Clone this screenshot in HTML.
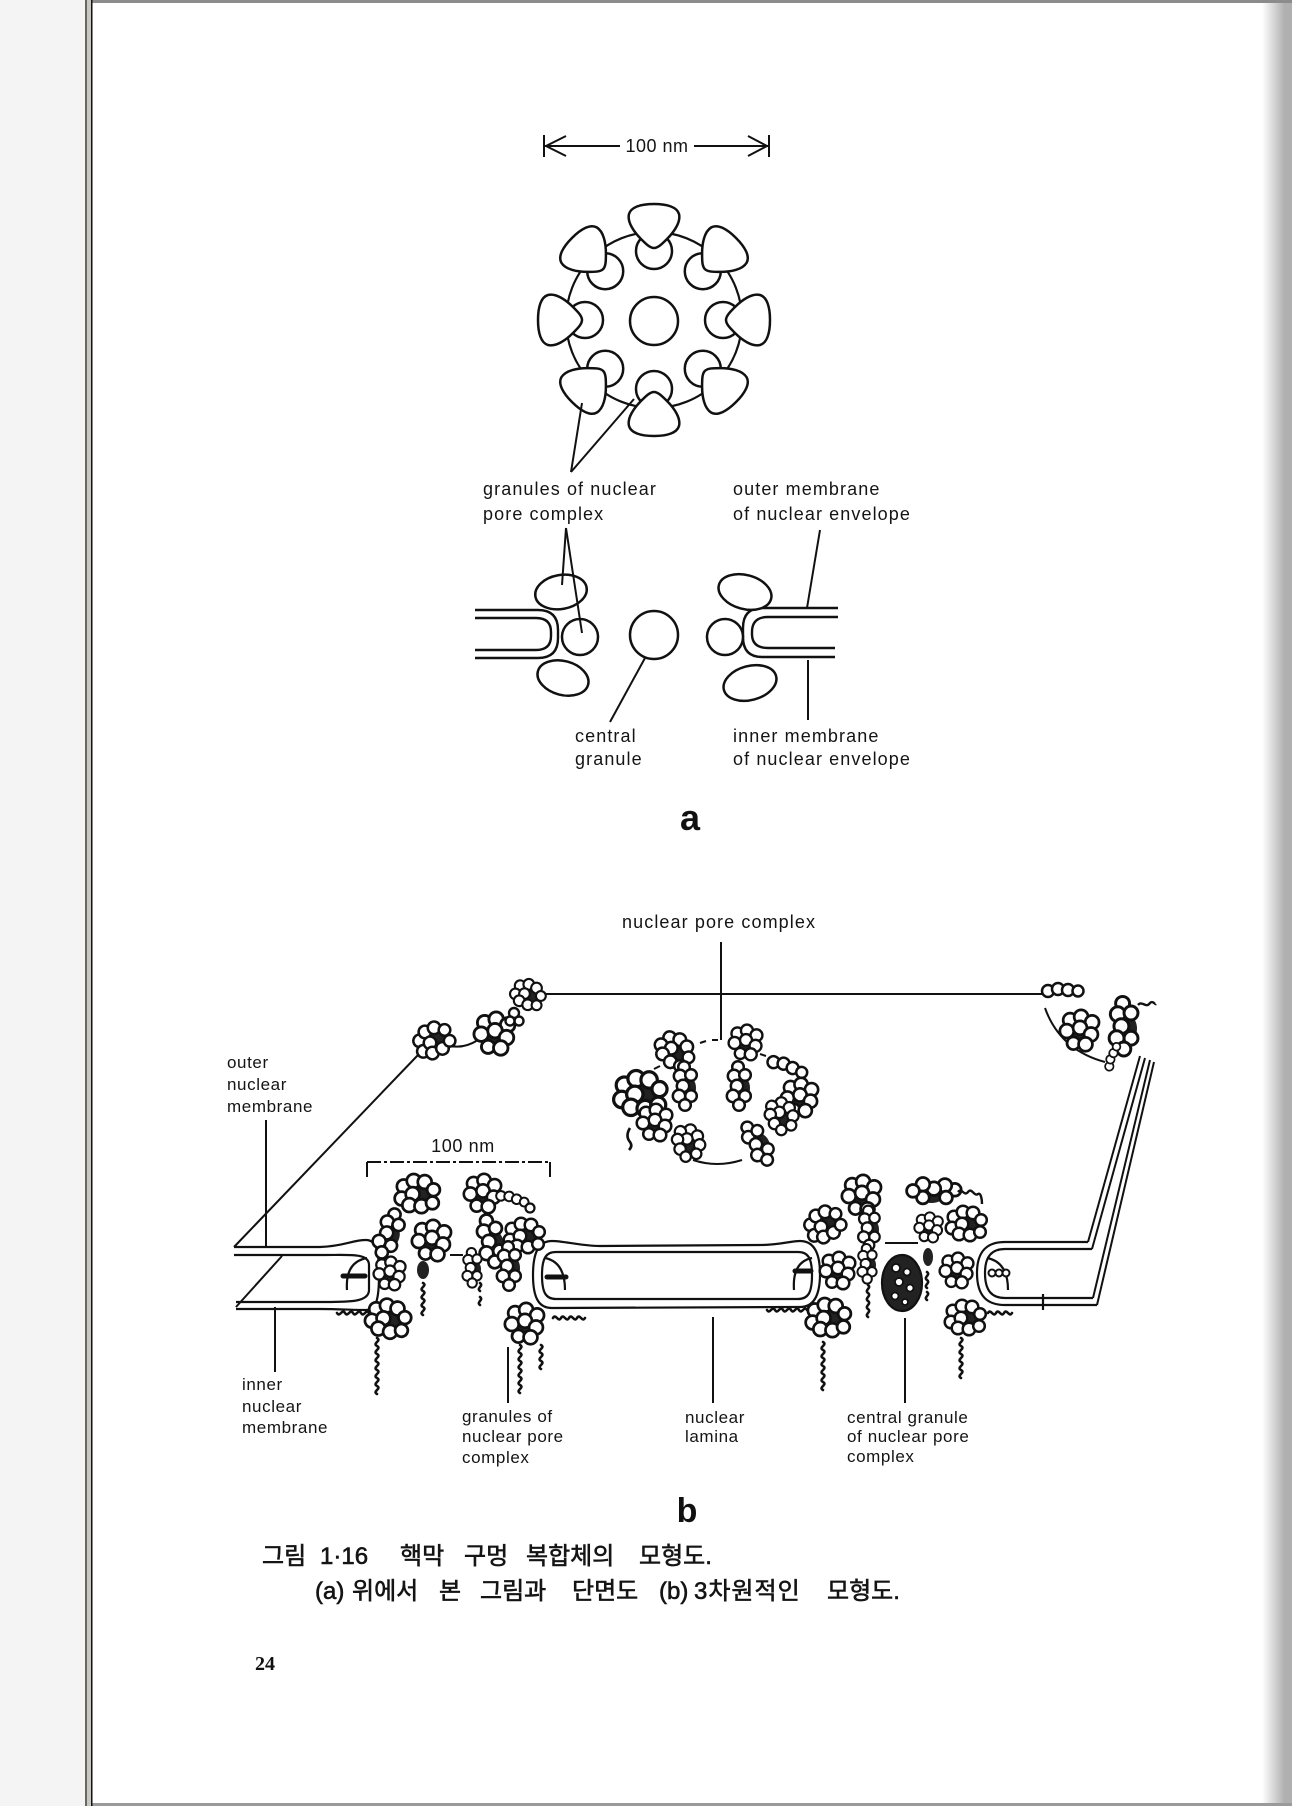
<!DOCTYPE html>
<html>
<head>
<meta charset="utf-8">
<style>
html,body{margin:0;padding:0;background:#f4f4f4;}
svg{display:block}
.la{font-family:"Liberation Sans",sans-serif;font-size:18px;letter-spacing:1.1px;fill:#141414}
.lb{font-family:"Liberation Sans",sans-serif;font-size:17px;letter-spacing:0.6px;fill:#141414}
.kr{font-family:"Liberation Sans","Noto Sans CJK KR",sans-serif;font-size:24px;fill:#141414;stroke:#141414;stroke-width:0.6px}
</style>
</head>
<body>
<svg width="1292" height="1806" viewBox="0 0 1292 1806" xmlns="http://www.w3.org/2000/svg">
<defs>
  <linearGradient id="rg" x1="0" x2="1" y1="0" y2="0">
    <stop offset="0" stop-color="#ffffff"/>
    <stop offset="1" stop-color="#b2b2b2"/>
  </linearGradient>
  <path id="tri" d="M0,-22 C13,-22 23,-19 25,-12 C27,-4 20,6 13,13 C8,18 4,22 0,22 C-4,22 -8,18 -13,13 C-20,6 -27,-4 -25,-12 C-23,-19 -13,-22 0,-22 Z"/>
  <g id="gr" fill="#fff" stroke="#111" stroke-width="2.5">
    <circle cx="0" cy="-69" r="18"/>
    <use href="#tri" transform="translate(0,-94)"/>
  </g>
  <g id="c1" fill="#fff" stroke="#111" stroke-width="2.5">
    <ellipse cx="5" cy="1" rx="10" ry="7" fill="#222" stroke="none"/>
    <circle cx="-12" cy="-6" r="6.3"/>
    <circle cx="-3" cy="-11" r="6.3"/>
    <circle cx="7" cy="-10" r="6.3"/>
    <circle cx="15" cy="-3" r="5.8"/>
    <circle cx="-14" cy="5" r="6.3"/>
    <circle cx="-4" cy="1" r="6.3"/>
    <circle cx="-7" cy="11" r="6.3"/>
    <circle cx="4" cy="12" r="6.3"/>
    <circle cx="14" cy="9" r="5.8"/>
  </g>
  <g id="c2" fill="#fff" stroke="#111" stroke-width="2.5">
    <ellipse cx="-3" cy="5" rx="8" ry="7" fill="#222" stroke="none"/>
    <circle cx="-9" cy="-9" r="6.3"/>
    <circle cx="1" cy="-12" r="6.3"/>
    <circle cx="11" cy="-7" r="6.3"/>
    <circle cx="-12" cy="1" r="6.3"/>
    <circle cx="0" cy="-2" r="6.3"/>
    <circle cx="10" cy="4" r="6.3"/>
    <circle cx="-6" cy="12" r="5.8"/>
    <circle cx="5" cy="13" r="6.3"/>
  </g>
  <g id="c3" fill="#fff" stroke="#111" stroke-width="2.5">
    <ellipse cx="4" cy="3" rx="6" ry="10" fill="#222" stroke="none"/>
    <circle cx="-2" cy="-18" r="5.8"/>
    <circle cx="-6" cy="-9" r="6.2"/>
    <circle cx="5" cy="-10" r="5.8"/>
    <circle cx="-3" cy="1" r="6.2"/>
    <circle cx="-7" cy="11" r="6.2"/>
    <circle cx="5" cy="11" r="5.8"/>
    <circle cx="-1" cy="20" r="5.8"/>
  </g>
  <g id="c4" fill="#fff" stroke="#111" stroke-width="2.5">
    <circle cx="-14" cy="1" r="6"/>
    <circle cx="-4" cy="-1" r="6"/>
    <circle cx="6" cy="0" r="6"/>
    <circle cx="16" cy="1" r="5.5"/>
  </g>
</defs>

<!-- page frame -->
<rect width="1292" height="1806" fill="#f4f4f4"/>
<rect x="87" y="3" width="1181" height="1800" fill="#fff"/>
<rect x="1262" y="0" width="22" height="1806" fill="url(#rg)"/>
<rect x="1284" y="0" width="8" height="1806" fill="#b0b0b0"/>
<rect x="86" y="0" width="1206" height="3" fill="#8c8c8c"/>
<rect x="86" y="1803" width="1206" height="3" fill="#9a9a9a"/>
<rect x="85" y="0" width="2" height="1806" fill="#666"/>
<rect x="87" y="0" width="4" height="1806" fill="#c8c8c0"/>
<rect x="91" y="0" width="1.5" height="1806" fill="#111"/>

<!-- ===== Diagram a : top view ===== -->
<g stroke="#111" stroke-width="2" fill="none">
  <line x1="544" y1="135" x2="544" y2="157"/>
  <line x1="769" y1="135" x2="769" y2="157"/>
  <line x1="545" y1="146" x2="620" y2="146"/>
  <line x1="694" y1="146" x2="768" y2="146"/>
  <polyline points="566,136 546,146 566,156"/>
  <polyline points="748,136 767,146 748,156"/>
</g>
<text x="657" y="152" text-anchor="middle" class="la" style="font-size:18px;letter-spacing:0.5px">100 nm</text>

<circle cx="654" cy="320" r="88" fill="none" stroke="#111" stroke-width="2.2"/>
<circle cx="654" cy="321" r="24" fill="#fff" stroke="#111" stroke-width="2.5"/>
<g transform="translate(654,320)">
  <use href="#gr" transform="rotate(0)"/>
  <use href="#gr" transform="rotate(45)"/>
  <use href="#gr" transform="rotate(90)"/>
  <use href="#gr" transform="rotate(135)"/>
  <use href="#gr" transform="rotate(180)"/>
  <use href="#gr" transform="rotate(225)"/>
  <use href="#gr" transform="rotate(270)"/>
  <use href="#gr" transform="rotate(315)"/>
</g>

<!-- leaders a -->
<g stroke="#111" stroke-width="2" fill="none">
  <line x1="582" y1="403" x2="571" y2="472"/>
  <line x1="634" y1="399" x2="571" y2="472"/>
  <line x1="820" y1="530" x2="807" y2="608"/>
  <line x1="808" y1="660" x2="808" y2="720"/>
  <line x1="645" y1="658" x2="610" y2="722"/>
</g>

<text x="483" y="495" class="la">granules of nuclear</text>
<text x="483" y="520" class="la">pore complex</text>
<text x="733" y="495" class="la">outer membrane</text>
<text x="733" y="520" class="la">of nuclear envelope</text>

<!-- cross section a -->
<g stroke="#111" stroke-width="2.4" fill="none">
  <path d="M475,610 L538,610 Q558,610 558,630 L558,638 Q558,658 538,658 L475,658"/>
  <path d="M475,618 L536,618 Q551,618 551,632 L551,636 Q551,650 536,650 L475,650"/>
  <path d="M838,608 L762,608 Q743,608 743,628 L743,637 Q743,657 762,657 L835,657"/>
  <path d="M838,617 L768,617 Q752,617 752,632 L752,634 Q752,648 768,648 L835,648"/>
</g>
<g stroke="#111" stroke-width="2.5" fill="#fff">
  <ellipse cx="561" cy="592" rx="26" ry="17" transform="rotate(-10 561 592)"/>
  <ellipse cx="563" cy="678" rx="26" ry="17" transform="rotate(15 563 678)"/>
  <circle cx="580" cy="637" r="18"/>
  <circle cx="654" cy="635" r="24"/>
  <circle cx="725" cy="637" r="18"/>
  <ellipse cx="745" cy="592" rx="27" ry="17" transform="rotate(15 745 592)"/>
  <ellipse cx="750" cy="683" rx="27" ry="17" transform="rotate(-15 750 683)"/>
</g>
<g stroke="#111" stroke-width="2" fill="none">
  <line x1="566" y1="528" x2="562" y2="585"/>
  <line x1="566" y1="528" x2="582" y2="633"/>
</g>

<text x="575" y="742" class="la">central</text>
<text x="575" y="765" class="la">granule</text>
<text x="733" y="742" class="la">inner membrane</text>
<text x="733" y="765" class="la">of nuclear envelope</text>

<text x="690" y="830" text-anchor="middle" style="font-family:'Liberation Sans',sans-serif;font-weight:bold;font-size:36px;fill:#111">a</text>

<!-- ===== Diagram b ===== -->
<text x="622" y="928" class="la">nuclear pore complex</text>

<g stroke="#111" stroke-width="2" fill="none">
  <line x1="721" y1="942" x2="721" y2="1040"/>
  <line x1="545" y1="994" x2="1042" y2="994"/>
  <line x1="234" y1="1247" x2="418" y2="1055"/>
  <line x1="236" y1="1307" x2="282" y2="1256"/>
  <path d="M447,1045 Q462,1050 478,1040"/>
  <!-- right edge -->
  <line x1="1088" y1="1242" x2="1140" y2="1056"/>
  <line x1="1092" y1="1249" x2="1145" y2="1058"/>
  <line x1="1093" y1="1298" x2="1150" y2="1060"/>
  <line x1="1097" y1="1305" x2="1154" y2="1062"/>
  <!-- leaders -->
  <line x1="266" y1="1120" x2="266" y2="1248"/>
  <line x1="275" y1="1307" x2="275" y2="1372"/>
  <line x1="508" y1="1347" x2="508" y2="1403"/>
  <line x1="713" y1="1317" x2="713" y2="1403"/>
  <line x1="905" y1="1318" x2="905" y2="1403"/>
  <!-- 100 nm bracket -->
  <line x1="367" y1="1162" x2="550" y2="1162" stroke-dasharray="14,3,3,3"/>
  <line x1="367" y1="1162" x2="367" y2="1177"/>
  <line x1="550" y1="1162" x2="550" y2="1177"/>
</g>
<text x="463" y="1152" text-anchor="middle" class="lb" style="font-size:18px">100 nm</text>

<!-- membranes -->
<g stroke="#111" stroke-width="2.2" fill="none">
  <path d="M234,1247 L320,1247 C345,1246 352,1240 366,1240 C376,1240 379,1250 379,1275 C379,1300 376,1310 366,1310 C352,1310 340,1309 320,1309 L236,1309"/>
  <path d="M234,1255 L325,1255 C350,1255 369,1253 369,1265 L369,1290 C369,1302 350,1302 325,1302 L236,1302"/>
  <path d="M552,1241 C540,1241 533,1250 533,1275 C533,1300 540,1308 552,1308 L800,1307 C812,1307 820,1298 820,1274 C820,1250 812,1241 800,1241 C790,1241 780,1245 760,1245 L600,1246 C580,1246 565,1241 552,1241 Z"/>
  <path d="M556,1252 C546,1252 542,1258 542,1275 C542,1293 546,1299 556,1299 L798,1299 C808,1299 812,1293 812,1275 C812,1258 808,1252 798,1252 Z"/>
  <path d="M1088,1242 L1005,1242 C988,1242 977,1250 977,1273 C977,1297 988,1305 1005,1305 L1097,1305"/>
  <path d="M1092,1249 L1005,1249 C992,1249 985,1256 985,1273 C985,1291 992,1298 1005,1298 L1093,1298"/>
  <!-- inner arcs -->
  <path d="M367,1258 Q345,1262 347,1290"/>
  <path d="M545,1258 Q565,1262 565,1290"/>
  <path d="M812,1258 Q792,1262 794,1290"/>
  <path d="M987,1258 Q1008,1262 1008,1290"/>
  <line x1="1043" y1="1294" x2="1043" y2="1310"/>
</g>
<g stroke="#111" stroke-width="5" stroke-linecap="round">
  <line x1="343" y1="1276" x2="365" y2="1276"/>
  <line x1="547" y1="1277" x2="566" y2="1277"/>
  <line x1="795" y1="1271" x2="811" y2="1271"/>
</g>
<g fill="#fff" stroke="#111" stroke-width="2">
  <circle cx="992" cy="1273" r="3.5"/><circle cx="999" cy="1273" r="3.5"/><circle cx="1006" cy="1273" r="3.5"/>
</g>

<!-- edge clusters -->
<use href="#c1" transform="translate(433,1040) rotate(-30)"/>
<use href="#c2" transform="translate(495,1033) scale(1.15)"/>
<use href="#c1" transform="translate(528,994) rotate(20) scale(0.85)"/>
<g fill="#fff" stroke="#111" stroke-width="2.4">
  <circle cx="514" cy="1013" r="5"/><circle cx="519" cy="1021" r="4.5"/><circle cx="510" cy="1021" r="4.5"/>
</g>
<!-- top-right cluster -->
<path d="M1045,1008 Q1060,1050 1105,1062" stroke="#111" stroke-width="2" fill="none"/>
<use href="#c4" transform="translate(1062,990)"/>
<use href="#c2" transform="translate(1080,1030) scale(1.1)"/>
<use href="#c3" transform="translate(1125,1025) scale(1.2)"/>
<use href="#c4" transform="translate(1112,1057) rotate(-70) scale(0.7)"/>
<path d="M1138,1005 c4,-5 8,4 12,-2 c3,-3 5,2 6,1" stroke="#111" stroke-width="2.4" fill="none"/>

<!-- ring (top view) -->
<g stroke="#111" stroke-width="2" fill="none">
  <path d="M693,1160 Q717,1168 742,1160"/>
  <path d="M700,1043 l6,-2 M712,1040 l6,0 M660,1066 l-6,3 M760,1054 l6,2"/>
  <path d="M630,1128 q-5,8 0,14 q3,4 -1,8" stroke-width="2.6"/>
</g>
<use href="#c1" transform="translate(675,1050) rotate(40)"/>
<use href="#c2" transform="translate(746,1042) scale(0.95)"/>
<use href="#c4" transform="translate(787,1066) rotate(20)"/>
<use href="#c2" transform="translate(800,1097) scale(1.05)"/>
<use href="#c1" transform="translate(640,1093) scale(1.3)"/>
<use href="#c3" transform="translate(686,1085)"/>
<use href="#c3" transform="translate(740,1085)"/>
<use href="#c2" transform="translate(655,1122)"/>
<use href="#c1" transform="translate(689,1142) rotate(70) scale(0.9)"/>
<use href="#c3" transform="translate(758,1142) rotate(-30)"/>
<use href="#c1" transform="translate(782,1115) rotate(60) scale(0.9)"/>

<!-- pore 1 -->
<use href="#c1" transform="translate(417,1193) scale(1.1)"/>
<use href="#c2" transform="translate(483,1193) scale(1.05)"/>
<use href="#c4" transform="translate(512,1198) rotate(15) scale(0.8)"/>
<circle cx="530" cy="1208" r="4.5" fill="#fff" stroke="#111" stroke-width="2.2"/>
<use href="#c3" transform="translate(390,1233) rotate(20) scale(1.05)"/>
<use href="#c2" transform="translate(432,1240) scale(1.1)"/>
<use href="#c3" transform="translate(492,1240) rotate(-10) scale(1.1)"/>
<use href="#c1" transform="translate(524,1235)"/>
<use href="#c2" transform="translate(390,1273) scale(0.9)"/>
<ellipse cx="423" cy="1270" rx="6" ry="9" fill="#222"/>
<use href="#c3" transform="translate(473,1267) scale(0.8)"/>
<use href="#c3" transform="translate(510,1265)"/>
<use href="#c1" transform="translate(388,1318) rotate(10) scale(1.1)"/>
<use href="#c2" transform="translate(525,1323) scale(1.1)"/>
<line x1="450" y1="1255" x2="463" y2="1255" stroke="#111" stroke-width="2"/>

<!-- pore 2 -->
<use href="#c2" transform="translate(862,1195) scale(1.1)"/>
<use href="#c3" transform="translate(935,1192) rotate(90) scale(1.1)"/>
<path d="M958,1192 c4,-5 6,5 10,0 c4,-5 6,5 10,2 c3,-2 4,6 4,10" stroke="#111" stroke-width="2.4" fill="none"/>
<use href="#c1" transform="translate(824,1224) rotate(-30)"/>
<use href="#c3" transform="translate(870,1227) scale(0.9)"/>
<use href="#c2" transform="translate(929,1227) scale(0.8)"/>
<use href="#c1" transform="translate(966,1223)"/>
<use href="#c2" transform="translate(838,1270)"/>
<use href="#c3" transform="translate(868,1263) scale(0.8)"/>
<ellipse cx="902" cy="1283" rx="20" ry="28" fill="#222" stroke="#111" stroke-width="2.2"/>
<g fill="#fff" stroke="#111" stroke-width="1.8">
  <circle cx="896" cy="1268" r="4"/><circle cx="907" cy="1272" r="3.5"/><circle cx="899" cy="1282" r="4"/>
  <circle cx="910" cy="1288" r="3.5"/><circle cx="895" cy="1296" r="3.5"/><circle cx="905" cy="1302" r="3"/>
</g>
<ellipse cx="928" cy="1257" rx="5" ry="9" fill="#222"/>
<use href="#c2" transform="translate(957,1270) scale(0.95)"/>
<use href="#c1" transform="translate(828,1317) scale(1.1)"/>
<use href="#c1" transform="translate(965,1317)"/>
<line x1="885" y1="1243" x2="918" y2="1243" stroke="#111" stroke-width="2"/>

<!-- tendrils -->
<g stroke="#111" stroke-width="2.6" fill="none" stroke-linecap="round">
  <path d="M377,1338 c5,3 -5,5 0,8 c5,3 -5,5 0,8 c5,3 -5,5 0,8 c5,3 -5,5 0,8 c5,3 -5,5 0,8 c5,3 -5,5 0,8 c5,3 -5,5 0,8"/>
  <path d="M423,1283 c5,3 -5,5 0,8 c5,3 -5,5 0,8 c5,3 -5,5 0,8 c5,3 -5,5 0,8"/>
  <path d="M480,1283 c4,3 -4,5 0,8 M480,1297 c4,3 -4,5 0,8"/>
  <path d="M520,1345 c5,3 -5,5 0,8 c5,3 -5,5 0,8 c5,3 -5,5 0,8 c5,3 -5,5 0,8 c5,3 -5,5 0,8 c5,3 -5,5 0,8"/>
  <path d="M541,1345 c5,3 -5,5 0,8 c5,3 -5,5 0,8 c5,3 -5,5 0,8"/>
  <path d="M337,1313 c3,5 5,-5 8,0 c3,5 5,-5 8,0 c3,5 5,-5 8,0 c3,5 5,-5 8,0"/>
  <path d="M553,1318 c3,-5 5,5 8,0 c3,-5 5,5 8,0 c3,-5 5,5 8,0 c3,-5 5,5 8,0"/>
  <path d="M823,1342 c5,3 -5,5 0,8 c5,3 -5,5 0,8 c5,3 -5,5 0,8 c5,3 -5,5 0,8 c5,3 -5,5 0,8 c5,3 -5,5 0,8"/>
  <path d="M868,1285 c4,3 -4,5 0,8 c4,3 -4,5 0,8 c4,3 -4,5 0,8 c4,3 -4,5 0,8"/>
  <path d="M927,1272 c4,3 -4,5 0,8 c4,3 -4,5 0,8 M927,1292 c4,3 -4,5 0,8"/>
  <path d="M961,1338 c5,3 -5,5 0,8 c5,3 -5,5 0,8 c5,3 -5,5 0,8 c5,3 -5,5 0,8 c5,3 -5,5 0,8"/>
  <path d="M767,1310 c3,5 5,-5 8,0 c3,5 5,-5 8,0 c3,5 5,-5 8,0 c3,5 5,-5 8,0 c3,5 5,-5 8,0"/>
  <path d="M988,1313 c3,-5 5,5 8,0 c3,-5 5,5 8,0 c3,-5 5,5 8,0"/>
</g>

<!-- labels b -->
<text x="227" y="1068" class="lb">outer</text>
<text x="227" y="1090" class="lb">nuclear</text>
<text x="227" y="1112" class="lb">membrane</text>
<text x="242" y="1390" class="lb">inner</text>
<text x="242" y="1412" class="lb">nuclear</text>
<text x="242" y="1433" class="lb">membrane</text>
<text x="462" y="1422" class="lb">granules of</text>
<text x="462" y="1442" class="lb">nuclear pore</text>
<text x="462" y="1463" class="lb">complex</text>
<text x="685" y="1423" class="lb">nuclear</text>
<text x="685" y="1442" class="lb">lamina</text>
<text x="847" y="1423" class="lb">central granule</text>
<text x="847" y="1442" class="lb">of nuclear pore</text>
<text x="847" y="1462" class="lb">complex</text>

<text x="687" y="1522" text-anchor="middle" style="font-family:'Liberation Sans',sans-serif;font-weight:bold;font-size:34px;fill:#111">b</text>

<!-- caption -->
<text x="262" y="1564" class="kr">그림</text>
<text x="320" y="1564" class="kr">1·16</text>
<text x="400" y="1564" class="kr">핵막</text>
<text x="464" y="1564" class="kr">구멍</text>
<text x="526" y="1564" class="kr">복합체의</text>
<text x="639" y="1564" class="kr">모형도.</text>

<text x="315" y="1599" class="kr">(a)</text>
<text x="352" y="1599" class="kr">위에서</text>
<text x="439" y="1599" class="kr">본</text>
<text x="480" y="1599" class="kr">그림과</text>
<text x="572" y="1599" class="kr">단면도</text>
<text x="659" y="1599" class="kr">(b)</text>
<text x="694" y="1599" class="kr" style="letter-spacing:1px">3차원적인</text>
<text x="827" y="1599" class="kr">모형도.</text>

<text x="255" y="1670" style="font-family:'Liberation Serif',serif;font-weight:bold;font-size:20px;fill:#111">24</text>
</svg>
</body>
</html>
